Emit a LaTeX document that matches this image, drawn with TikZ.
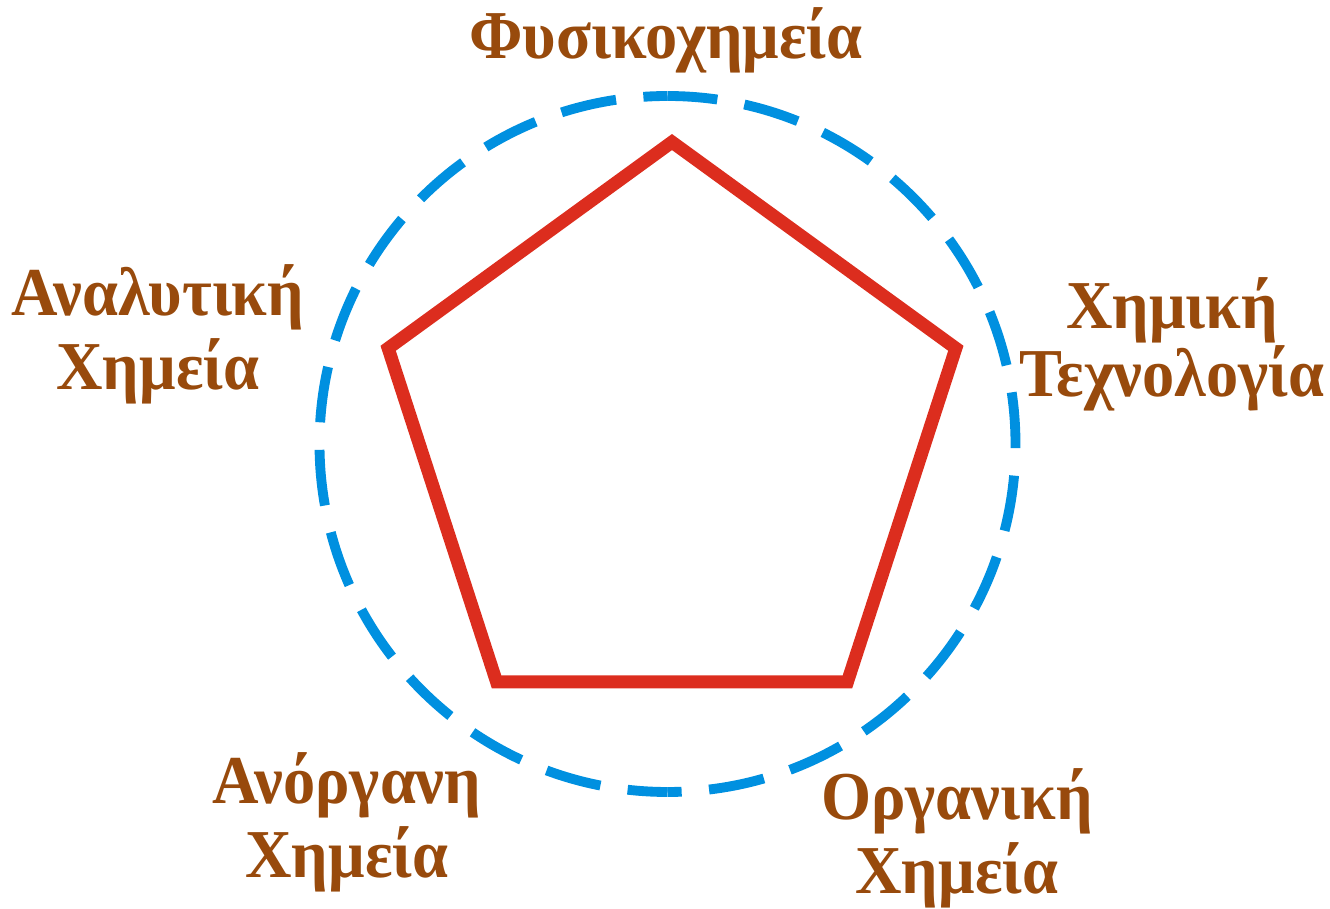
\documentclass[tikz,border=0pt]{standalone}
\usepackage{fontspec}
\setmainfont[FakeStretch=0.94]{Liberation Serif}
\usetikzlibrary{shapes.geometric}
\definecolor{ringblue}{HTML}{0090E0}
\definecolor{pentred}{HTML}{DC2D1E}
\definecolor{lblbrown}{HTML}{984A0C}

\begin{document}
\begin{tikzpicture}[
    x=0.02cm, y=0.02cm,
    ring/.style={draw=ringblue, line width=5.6pt,
        dash pattern=on 1.12cm off 0.55cm},
    pent/.style={draw=pentred, line width=7.4pt, regular polygon,
        regular polygon sides=5, minimum size=11.94cm, inner sep=0pt},
    lbl/.style={text=lblbrown, font=\fontsize{39}{42.5}\selectfont\bfseries,
        align=center, inner sep=0pt, anchor=base},
]
    \useasboundingbox (0,0) rectangle (1330,909);
    \coordinate (ctr) at (667.5,465);

    \node[pent] (pent) at (672,468.5) {};

    % dashed ring, drawn as two halves from the top
    \draw[ring, dash phase=0.12cm] (ctr) ++(90:348)
        arc[start angle=90, end angle=-90, radius=348];
    \draw[ring, dash phase=0.32cm] (ctr) ++(-90:348)
        arc[start angle=-90, end angle=-270, radius=348];

    \node[lbl] (phys) at (666,850) {Φυσικοχημεία};
    \node[lbl] (anal) at (158,519) {Αναλυτική\\Χημεία};
    \node[lbl, font=\fontsize{39}{39.1}\selectfont\bfseries] (tech)
        at (1172,512) {Χημική\\Τεχνολογία};
    \node[lbl] (inorg) at (347,31) {Ανόργανη\\Χημεία};
    \node[lbl] (org) at (957,15) {Οργανική\\Χημεία};
\end{tikzpicture}
\end{document}
